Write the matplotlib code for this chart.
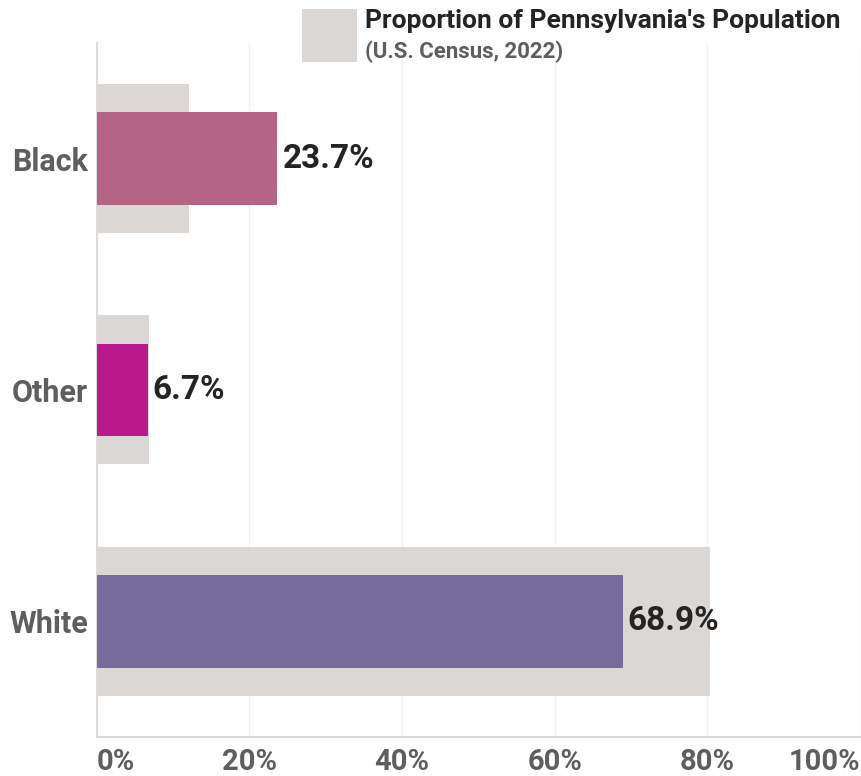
import matplotlib
matplotlib.use("Agg")
import matplotlib.pyplot as plt
from matplotlib.patches import Rectangle
from matplotlib import font_manager

# Data
groups = ["Black", "Other", "White"]
group_share = [23.7, 6.7, 68.9]          # share of the group being measured (%)
pa_population = [12.1, 6.9, 80.4]        # Pennsylvania population share, U.S. Census 2022 (%)
bar_colors = ["#B46586", "#B9198A", "#766C9B"]
x_ticks = [0, 20, 40, 60, 80, 100]
x_tick_labels = ["0%", "20%", "40%", "60%", "80%", "100%"]

legend_title = "Proportion of Pennsylvania's Population"
legend_subtitle = "(U.S. Census, 2022)"

available = {f.name for f in font_manager.fontManager.ttflist}
families = [f for f in ["Liberation Sans Narrow", "DejaVu Sans Condensed", "Roboto"] if f in available]
families.append("DejaVu Sans")
plt.rcParams["font.family"] = families

GRAY_BG = "#DBD7D5"
LABEL_GRAY = "#605E5C"
VALUE_DARK = "#252423"

fig = plt.figure(figsize=(8.62, 7.76), dpi=100)
ax = fig.add_axes([0.112, 0.0503, 0.8857, 0.8943])

y = list(range(len(groups)))
ax.barh(y, pa_population, height=0.644, color=GRAY_BG, zorder=2)
ax.barh(y, group_share, height=0.40, color=bar_colors, zorder=3)

for yi, v in zip(y, group_share):
    ax.annotate(f"{v:.1f}%", xy=(v, yi), xytext=(5, 0), textcoords="offset pixels",
                ha="left", va="center", fontsize=24, fontweight="bold",
                color=VALUE_DARK, zorder=4)

ax.set_xlim(0, 100)
ax.set_ylim(len(groups) - 0.5, -0.5)
ax.set_yticks(y)
ax.set_yticklabels(groups, fontsize=22, fontweight="bold", color=LABEL_GRAY)
ax.set_xticks(x_ticks)
ax.set_xticklabels(x_tick_labels, fontsize=21, fontweight="bold", color=LABEL_GRAY)
ax.tick_params(axis="both", length=0)
ax.tick_params(axis="y", pad=6)
ax.tick_params(axis="x", pad=8)
xt = ax.get_xticklabels()
xt[0].set_ha("left")
xt[-1].set_ha("right")

ax.grid(axis="x", color="#F1F1F1", linewidth=1, zorder=0)
ax.set_axisbelow(True)
for side in ["top", "right"]:
    ax.spines[side].set_visible(False)
ax.spines["left"].set_color("#DADADA")
ax.spines["left"].set_linewidth(1.5)
ax.spines["bottom"].set_color("#D6D6D6")
ax.spines["bottom"].set_linewidth(1.5)

# Legend swatch and caption
fig.patches.append(Rectangle((0.3503, 0.9201), 0.0638, 0.0683, transform=fig.transFigure,
                             facecolor=GRAY_BG, edgecolor="none"))
fig.text(0.4234, 0.964, legend_title, fontsize=19, fontweight="bold",
         color=VALUE_DARK, ha="left", va="baseline")
fig.text(0.4234, 0.925, legend_subtitle, fontsize=16, fontweight="bold",
         color=LABEL_GRAY, ha="left", va="baseline")

fig.savefig("out.png", dpi=100, facecolor="white")
